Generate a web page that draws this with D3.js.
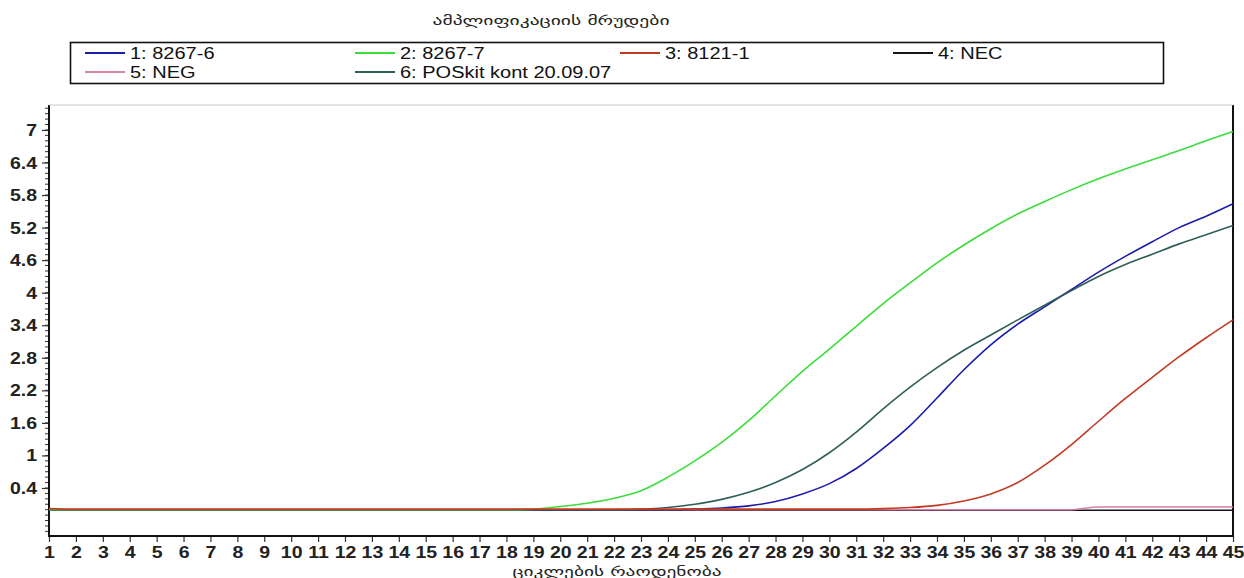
<!DOCTYPE html>
<html><head><meta charset="utf-8">
<script src="https://cdn.jsdelivr.net/npm/d3@7"></script>
<style>body{margin:0;background:#fff} svg{display:block}</style>
</head><body>
<svg id="c" width="1244" height="578"></svg>
<script>
const title = "ამპლიფიკაციის მრუდები";
const xTitle = "ციკლების რაოდენობა";
const cycles = [1,2,3,4,5,6,7,8,9,10,11,12,13,14,15,16,17,18,19,20,21,22,23,24,25,26,27,28,29,30,31,32,33,34,35,36,37,38,39,40,41,42,43,44,45];
const yTicks = [0.4,1,1.6,2.2,2.8,3.4,4,4.6,5.2,5.8,6.4,7];
const seriesNames = ["1: 8267-6","2: 8267-7","3: 8121-1","4: NEC","5: NEG","6: POSkit kont 20.09.07"];
const seriesColors = ["#1c1caa","#3cdc3c","#c33a22","#141414","#d880a8","#2f5f58"];
// values per cycle 1..45
const s1 = [0,0,0,0,0,0,0,0,0,0, 0,0,0,0,0,0,0,0,0,0, 0,0,0,0,0.01,0.03,0.07,0.15,0.29,0.48, 0.76,1.13,1.55,2.06,2.58,3.04,3.42,3.74,4.06,4.38, 4.67,4.94,5.2,5.41,5.64];
const s2 = [0,0,0,0,0,0,0,0,0,0, 0,0,0,0,0,0,0,0,0.01,0.06, 0.12,0.21,0.35,0.6,0.9,1.24,1.64,2.1,2.55,2.96, 3.38,3.8,4.18,4.55,4.88,5.18,5.45,5.68,5.9,6.1, 6.28,6.45,6.62,6.8,6.97];
const s3 = [0.02,0.01,0.01,0.01,0.01,0.01,0.01,0.01,0.01,0.01, 0.01,0.01,0.01,0.01,0.01,0.01,0.01,0.01,0.01,0.01, 0.01,0.01,0.01,0.01,0.01,0.01,0.01,0.01,0.01,0.01, 0.01,0.02,0.04,0.08,0.16,0.29,0.5,0.82,1.2,1.63, 2.05,2.44,2.82,3.17,3.5];
const s4 = [-0.01,-0.01,-0.01,-0.01,-0.01,-0.01,-0.01,-0.01,-0.01,-0.01, -0.01,-0.01,-0.01,-0.01,-0.01,-0.01,-0.01,-0.01,-0.01,-0.01, -0.01,-0.01,-0.01,-0.01,-0.01,-0.01,-0.01,-0.01,-0.01,-0.01, -0.01,-0.01,-0.01,-0.01,-0.01,-0.01,-0.01,-0.01,-0.01,-0.01, -0.01,-0.01,-0.01,-0.01,-0.01];
const s5 = [0,0,0,0,0,0,0,0,0,0, 0,0,0,0,0,0,0,0,0,0, 0,0,0,0,0,0,0,0,0,0, 0,0,0,0,0,0,0,0,0,0.05, 0.05,0.05,0.05,0.05,0.05];
const s6 = [0,0,0,0,0,0,0,0,0,0, 0,0,0,0,0,0,0,0,0,0, 0,0,0.01,0.04,0.1,0.19,0.32,0.5,0.74,1.05, 1.43,1.86,2.26,2.62,2.94,3.22,3.5,3.77,4.04,4.3, 4.52,4.71,4.9,5.07,5.24];
const seriesValues = [s1,s2,s3,s4,s5,s6];
const drawOrder = [3,4,0,5,1,2];

const svg = d3.select("#c");
const L = 49, R = 1233, T = 105, B = 536;
const x = d3.scaleLinear().domain([1,45]).range([L,R]);
const y = d3.scaleLinear().domain([-0.485,7.46]).range([B,T]);
const font = "'Liberation Sans', Arial, sans-serif";
const SX = 1.22;

// title
svg.append("text").attr("x",551).attr("y",25).attr("text-anchor","middle")
  .attr("font-family","'DejaVu Sans', sans-serif").attr("font-size",13).attr("fill","#222")
  .attr("textLength",237).attr("lengthAdjust","spacingAndGlyphs").text(title);

// legend
svg.append("rect").attr("x",70.5).attr("y",42.5).attr("width",1093).attr("height",41)
  .attr("fill","#fff").attr("stroke","#111").attr("stroke-width",1.6);
const legX = [85,355,620,893,85,355], legY = [53,53,53,53,72,72];
seriesNames.forEach((n,i)=>{
  svg.append("line").attr("x1",legX[i]).attr("x2",legX[i]+40).attr("y1",legY[i]).attr("y2",legY[i])
    .attr("stroke",seriesColors[i]).attr("stroke-width",2);
  svg.append("text").attr("transform",`translate(${legX[i]+45},${legY[i]+6}) scale(1.25,1)`)
    .attr("font-family",font).attr("font-size",16).attr("fill","#111").text(n);
});

// minor y ticks
const minor = d3.range(-4,75).map(k=>k/10);
svg.append("g").selectAll("line").data(minor).join("line")
  .attr("x1",L-4).attr("x2",L).attr("y1",d=>y(d)).attr("y2",d=>y(d))
  .attr("stroke","#333").attr("stroke-width",1);

// y axis
const gy = svg.append("g").attr("transform",`translate(${L},0)`)
  .call(d3.axisLeft(y).tickValues(yTicks).tickSize(7).tickSizeOuter(0).tickFormat(d3.format("~g")));
gy.select(".domain").remove();
gy.selectAll(".tick line").attr("stroke","#333").attr("stroke-width",1.2);
gy.selectAll(".tick text").attr("x",null).attr("dy",null)
  .attr("transform",`translate(-12,5.5) scale(${SX},1)`)
  .attr("font-family",font).attr("font-size",16).attr("font-weight","bold").attr("fill","#222");

// x axis
const gx = svg.append("g").attr("transform",`translate(0,${B})`)
  .call(d3.axisBottom(x).tickValues(cycles).tickSize(6).tickSizeOuter(0).tickFormat(d3.format("d")));
gx.select(".domain").remove();
gx.selectAll(".tick line").attr("stroke","#333").attr("stroke-width",1.2);
gx.selectAll(".tick text").attr("y",null).attr("dy",null)
  .attr("transform",`translate(0,22) scale(${SX},1)`)
  .attr("font-family",font).attr("font-size",16).attr("font-weight","bold").attr("fill","#222");

// frame
svg.append("path").attr("d",`M${L},${T}V${B}H${R}V${T}`).attr("fill","none").attr("stroke","#111").attr("stroke-width",2);
svg.append("line").attr("x1",L).attr("x2",R).attr("y1",T).attr("y2",T).attr("stroke","#bbb").attr("stroke-width",0.8);

// x title
svg.append("text").attr("x",617).attr("y",576).attr("text-anchor","middle")
  .attr("font-family","'DejaVu Sans', sans-serif").attr("font-size",13).attr("fill","#222")
  .attr("textLength",209).attr("lengthAdjust","spacingAndGlyphs").text(xTitle);

// curves
const line = d3.line().x((d,i)=>x(cycles[i])).y(d=>y(d)).curve(d3.curveMonotoneX);
drawOrder.forEach(i=>{
  svg.append("path").datum(seriesValues[i]).attr("d",line)
    .attr("fill","none").attr("stroke",seriesColors[i]).attr("stroke-width",1.6);
});
</script>
</body></html>
